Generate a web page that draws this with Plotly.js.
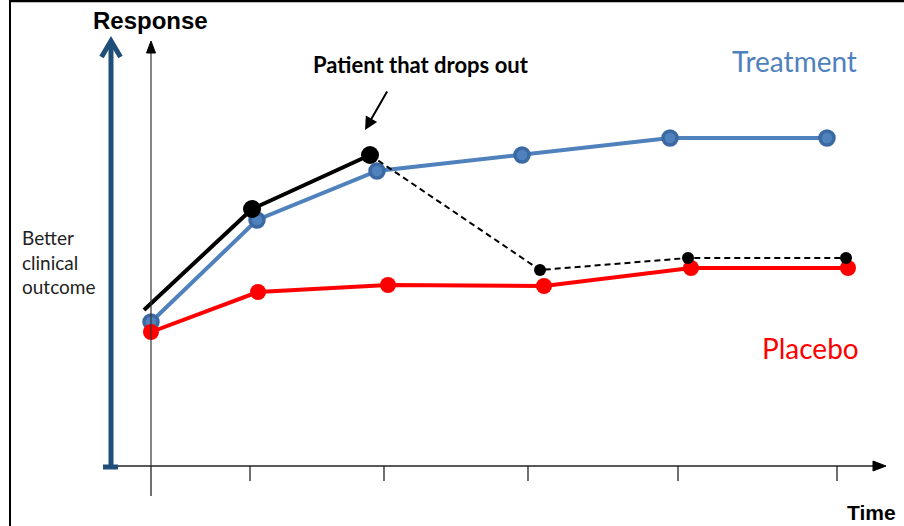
<!DOCTYPE html>
<html>
<head>
<meta charset="utf-8">
<script src="https://cdn.plot.ly/plotly-3.0.1.min.js"></script>
<style>html,body{margin:0;padding:0;background:#fff;}#chart{width:904px;height:526px;}</style>
</head>
<body>
<div id="chart"></div>
<script>
// Diagram coordinates: time (x) and response (y), origin at the axes' crossing
const tickTimes = [0, 99, 233, 377, 527, 686];

const treatmentTime = [0, 106, 226, 371, 519, 676];
const treatmentResp = [144, 246, 295, 311, 328, 328];

const placeboTime = [0, 107, 237, 393, 540, 697];
const placeboResp = [134, 174, 181, 180, 198, 198];

const dropoutTime = [-7, 101, 219];
const dropoutResp = [156, 257, 311];

const afterDropTime = [219, 389, 537, 695];
const afterDropResp = [311, 196, 208, 208];

const labels = {
  yTitle: 'Response',
  xTitle: 'Time',
  note: 'Patient that drops out',
  treatment: 'Treatment',
  placebo: 'Placebo',
  better: 'Better<br>clinical<br>outcome'
};

const BLUE = '#4f81bd';
const BLUE_DARK = '#3b6aa3';
const NAVY = '#1f4e79';
const RED = '#ff0000';

const traces = [
  {
    x: treatmentTime, y: treatmentResp, mode: 'lines+markers', name: labels.treatment,
    line: {color: BLUE, width: 4},
    marker: {size: 14, color: BLUE, opacity: 1, line: {color: BLUE_DARK, width: 3.5}}
  },
  {
    x: placeboTime, y: placeboResp, mode: 'lines+markers', name: labels.placebo,
    line: {color: RED, width: 4},
    marker: {size: 16, color: RED, opacity: 1}
  },
  {
    x: dropoutTime, y: dropoutResp, mode: 'lines+markers', name: 'dropout',
    line: {color: '#000', width: 4},
    marker: {size: dropoutTime.map((t, i) => i === 0 ? 0 : 18), color: '#000', opacity: 1, line: {width: 0}}
  },
  {
    x: afterDropTime, y: afterDropResp, mode: 'lines+markers', name: 'after dropout',
    line: {color: '#000', width: 2, dash: '6px,4px'},
    marker: {size: afterDropTime.map((t, i) => i === 0 ? 0 : 12), color: '#000', opacity: 1, line: {width: 0}}
  }
];

const shapes = [];
// frame
shapes.push({type: 'line', xref: 'x', yref: 'y', x0: -141, x1: -141, y0: -70, y1: 470, line: {color: '#000', width: 2}});
shapes.push({type: 'line', xref: 'x', yref: 'y', x0: -141, x1: 760, y0: 465, y1: 465, line: {color: '#000', width: 2.5}});
// time axis
shapes.push({type: 'line', xref: 'x', yref: 'y', x0: -33, x1: 726, y0: 0, y1: 0, line: {color: '#222', width: 1.3}});
shapes.push({type: 'path', xref: 'x', yref: 'y', path: 'M 722 5 L 735 0 L 722 -5 Z', fillcolor: '#000', line: {color: '#000', width: 1}});
tickTimes.forEach(t => {
  shapes.push({type: 'line', xref: 'x', yref: 'y', x0: t, x1: t, y0: 0, y1: t === 0 ? -30 : -15, line: {color: '#222', width: 1.3}});
});
// thin response axis
shapes.push({type: 'line', xref: 'x', yref: 'y', x0: 0, x1: 0, y0: 0, y1: 416, line: {color: '#333', width: 1.2}});
shapes.push({type: 'path', xref: 'x', yref: 'y', path: 'M -4.5 413 L 0 425 L 4.5 413 Z', fillcolor: '#000', line: {color: '#000', width: 1}});
// thick navy axis
shapes.push({type: 'line', xref: 'x', yref: 'y', x0: -40, x1: -40, y0: -1, y1: 424, line: {color: NAVY, width: 5}});
shapes.push({type: 'path', xref: 'x', yref: 'y', path: 'M -49.5 409 L -40 425 L -30.5 409', line: {color: NAVY, width: 5}});
shapes.push({type: 'line', xref: 'x', yref: 'y', x0: -48, x1: -33, y0: -1, y1: -1, line: {color: NAVY, width: 5}});

const calibri = 'Lato, "Open Sans", sans-serif';
const arial = '"Liberation Sans", Arial, sans-serif';

const annotations = [
  {x: -1, y: 446, xref: 'x', yref: 'y', text: '<b>' + labels.yTitle + '</b>', showarrow: false,
   font: {family: arial, size: 24, color: '#000'}, xanchor: 'center', yanchor: 'middle'},
  {x: 720, y: -46, xref: 'x', yref: 'y', text: '<b>' + labels.xTitle + '</b>', showarrow: false,
   font: {family: arial, size: 21, color: '#000'}, xanchor: 'center', yanchor: 'middle'},
  {x: 270, y: 402, xref: 'x', yref: 'y', text: '<b>' + labels.note + '</b>', showarrow: false,
   font: {family: calibri, size: 22, color: '#000'}, xanchor: 'center', yanchor: 'middle'},
  {x: 643, y: 405, xref: 'x', yref: 'y', text: labels.treatment, showarrow: false,
   font: {family: calibri, size: 28, color: BLUE}, xanchor: 'center', yanchor: 'middle'},
  {x: 659, y: 118, xref: 'x', yref: 'y', text: labels.placebo, showarrow: false,
   font: {family: calibri, size: 28, color: RED}, xanchor: 'center', yanchor: 'middle'},
  {x: -131, y: 204, xref: 'x', yref: 'y', text: labels.better, showarrow: false, align: 'left',
   font: {family: calibri, size: 19, color: '#222'}, xanchor: 'left', yanchor: 'middle'},
  {x: 214, y: 336, xref: 'x', yref: 'y', text: '', showarrow: true, ax: 23, ay: -40,
   arrowhead: 2, arrowsize: 1.3, arrowwidth: 2, arrowcolor: '#000', standoff: 0}
];

const layout = {
  width: 904, height: 526,
  margin: {l: 0, r: 0, t: 0, b: 0, pad: 0},
  paper_bgcolor: '#fff', plot_bgcolor: '#fff',
  showlegend: false,
  xaxis: {range: [-151, 753], visible: false, fixedrange: true},
  yaxis: {range: [-60, 466], visible: false, fixedrange: true},
  shapes: shapes,
  annotations: annotations
};

Plotly.newPlot('chart', traces, layout, {staticPlot: true, displayModeBar: false});
</script>
</body>
</html>
